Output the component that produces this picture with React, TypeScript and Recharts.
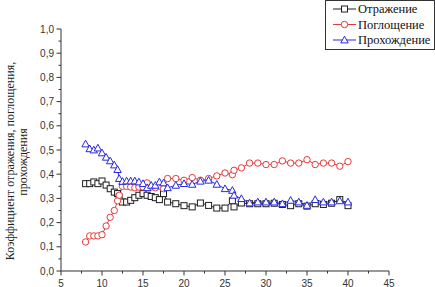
import React from 'react';
import { LineChart, Line, XAxis, YAxis, Legend } from 'recharts';

const xValues = [8, 8.5, 9, 9.5, 10, 10.5, 11, 11.5, 11.9, 12.1, 12.5, 13, 13.5, 14, 14.5, 15, 15.5, 16, 16.5, 17, 17.5, 18, 19, 20, 21, 22, 23, 24, 25, 25.9, 26.1, 27, 28, 29, 30, 31, 32, 33, 34, 35, 36, 37, 38, 39, 40];
const reflection = [0.361, 0.361, 0.368, 0.361, 0.372, 0.355, 0.34, 0.326, 0.32, 0.305, 0.285, 0.285, 0.292, 0.303, 0.313, 0.32, 0.313, 0.308, 0.303, 0.295, 0.32, 0.285, 0.278, 0.27, 0.265, 0.281, 0.271, 0.26, 0.26, 0.29, 0.265, 0.281, 0.278, 0.278, 0.278, 0.28, 0.275, 0.27, 0.278, 0.268, 0.278, 0.275, 0.28, 0.295, 0.27];
const absorption = [0.12, 0.145, 0.145, 0.145, 0.15, 0.186, 0.222, 0.25, 0.29, 0.313, 0.35, 0.35, 0.347, 0.344, 0.347, 0.347, 0.364, 0.347, 0.344, 0.35, 0.34, 0.382, 0.382, 0.375, 0.386, 0.375, 0.382, 0.393, 0.405, 0.398, 0.416, 0.426, 0.446, 0.446, 0.44, 0.44, 0.455, 0.446, 0.446, 0.46, 0.44, 0.446, 0.446, 0.433, 0.452];
const transmission = [0.525, 0.505, 0.5, 0.508, 0.488, 0.47, 0.455, 0.438, 0.419, 0.382, 0.37, 0.372, 0.372, 0.372, 0.368, 0.361, 0.344, 0.354, 0.354, 0.368, 0.364, 0.344, 0.354, 0.361, 0.358, 0.371, 0.375, 0.358, 0.34, 0.333, 0.313, 0.299, 0.281, 0.285, 0.285, 0.285, 0.278, 0.292, 0.285, 0.271, 0.295, 0.285, 0.285, 0.29, 0.285];

const xTicks = [5, 7.5, 10, 12.5, 15, 17.5, 20, 22.5, 25, 27.5, 30, 32.5, 35, 37.5, 40, 42.5, 45];
const yTicks = [0, 0.05, 0.1, 0.15, 0.2, 0.25, 0.3, 0.35, 0.4, 0.45, 0.5, 0.55, 0.6, 0.65, 0.7, 0.75, 0.8, 0.85, 0.9, 0.95, 1];
const majorXTicks = [5, 10, 15, 20, 25, 30, 35, 40, 45];
const majorYTicks = [0, 0.1, 0.2, 0.3, 0.4, 0.5, 0.6, 0.7, 0.8, 0.9, 1];

const seriesNames = ['Отражение', 'Поглощение', 'Прохождение'];
const yAxisTitle = ['Коэффициент отражения, поглощения,', 'прохождения'];

const COLORS = ['#1e1e1e', '#e23a3a', '#2828e0'];
const AXIS = '#333';
const SANS = '"Liberation Sans", Arial, sans-serif';
const SERIF = '"Liberation Serif", "Times New Roman", serif';

const data = xValues.map((x, i) => ({ x, r: reflection[i], a: absorption[i], t: transmission[i] }));

function Marker({ kind, cx, cy, color }: { kind: number; cx: number; cy: number; color: string }) {
  if (kind === 0) return <rect x={cx - 3} y={cy - 3} width={6} height={6} fill="#fff" stroke={color} strokeWidth={1} />;
  if (kind === 1) return <circle cx={cx} cy={cy} r={3.2} fill="#fff" stroke={color} strokeWidth={1} />;
  return <polygon points={`${cx},${cy - 3.8} ${cx - 3.7},${cy + 2.9} ${cx + 3.7},${cy + 2.9}`} fill="#fff" stroke={color} strokeWidth={1} />;
}

const makeDot = (kind: number) => (props: any) => {
  const { cx, cy, index } = props;
  if (cx == null || cy == null) return <g key={`d${kind}-${index}`} />;
  return <Marker key={`d${kind}-${index}`} kind={kind} cx={cx} cy={cy} color={COLORS[kind]} />;
};

const isMajor = (v: number, list: number[]) => list.some((m) => Math.abs(m - v) < 1e-6);

const YTick = (props: any) => {
  const { x, y, payload } = props;
  const v = payload.value;
  const major = isMajor(v, majorYTicks);
  return (
    <g>
      <line x1={x} y1={y} x2={x - (major ? 4.5 : 2.5)} y2={y} stroke={AXIS} strokeWidth={1} />
      {major && (
        <text x={x - 7} y={y} textAnchor="end" dominantBaseline="central" fontFamily={SANS} fontSize={10} fill="#333">
          {v.toFixed(1).replace('.', ',')}
        </text>
      )}
    </g>
  );
};

const XTick = (props: any) => {
  const { x, y, payload } = props;
  const v = payload.value;
  const major = isMajor(v, majorXTicks);
  return (
    <g>
      <line x1={x} y1={y} x2={x} y2={y + (major ? 4.5 : 2.5)} stroke={AXIS} strokeWidth={1} />
      {major && (
        <text x={x} y={y + 12} textAnchor="middle" dominantBaseline="central" fontFamily={SANS} fontSize={10} fill="#333">
          {String(v)}
        </text>
      )}
    </g>
  );
};

const YTitle = () => (
  <g>
    <text transform="translate(14,161) rotate(-90)" textAnchor="middle" fontFamily={SERIF} fontSize={12} fill="#222">
      {yAxisTitle[0]}
    </text>
    <text transform="translate(27,162) rotate(-90)" textAnchor="middle" fontFamily={SERIF} fontSize={12} fill="#222">
      {yAxisTitle[1]}
    </text>
  </g>
);

const LegendBox = () => (
  <div style={{ width: 110, height: 50, border: '1px solid #333', boxSizing: 'border-box', background: '#fff' }}>
    <svg width={108} height={48} style={{ display: 'block' }}>
      {seriesNames.map((name, i) => {
        const cy = 8 + i * 15.5;
        return (
          <g key={name}>
            <line x1={7} y1={cy} x2={30} y2={cy} stroke={COLORS[i]} strokeWidth={1} />
            <Marker kind={i} cx={18.5} cy={cy} color={COLORS[i]} />
            <text x={32} y={cy} dominantBaseline="central" fontFamily={SERIF} fontSize={12.5} fill="#111">
              {name}
            </text>
          </g>
        );
      })}
    </svg>
  </div>
);

export default function App() {
  return (
    <div style={{ position: 'absolute', left: 0, top: 0, width: 435, height: 287, background: '#fff' }}>
      <LineChart width={435} height={287} data={data} margin={{ top: 29, right: 46, bottom: 0, left: 0 }}>
        <XAxis
          dataKey="x"
          type="number"
          domain={[5, 45]}
          ticks={xTicks}
          interval={0}
          height={16}
          tickSize={0}
          tickMargin={0}
          tickLine={false}
          axisLine={{ stroke: AXIS, strokeWidth: 1 }}
          tick={<XTick />}
          allowDecimals
        />
        <YAxis
          type="number"
          domain={[0, 1]}
          ticks={yTicks}
          interval={0}
          width={61}
          tickSize={0}
          tickMargin={0}
          tickLine={false}
          axisLine={{ stroke: AXIS, strokeWidth: 1 }}
          tick={<YTick />}
          label={{ content: () => <YTitle /> }}
        />
        <Legend
          layout="vertical"
          align="center"
          verticalAlign="middle"
          content={() => <LegendBox />}
          wrapperStyle={{ position: 'absolute', left: 325, top: 0, width: 110, height: 50 }}
        />
        <Line type="linear" dataKey="r" name={seriesNames[0]} stroke={COLORS[0]} strokeWidth={1} dot={makeDot(0)} activeDot={false} isAnimationActive={false} />
        <Line type="linear" dataKey="a" name={seriesNames[1]} stroke={COLORS[1]} strokeWidth={1} dot={makeDot(1)} activeDot={false} isAnimationActive={false} />
        <Line type="linear" dataKey="t" name={seriesNames[2]} stroke={COLORS[2]} strokeWidth={1} dot={makeDot(2)} activeDot={false} isAnimationActive={false} />
      </LineChart>
    </div>
  );
}
